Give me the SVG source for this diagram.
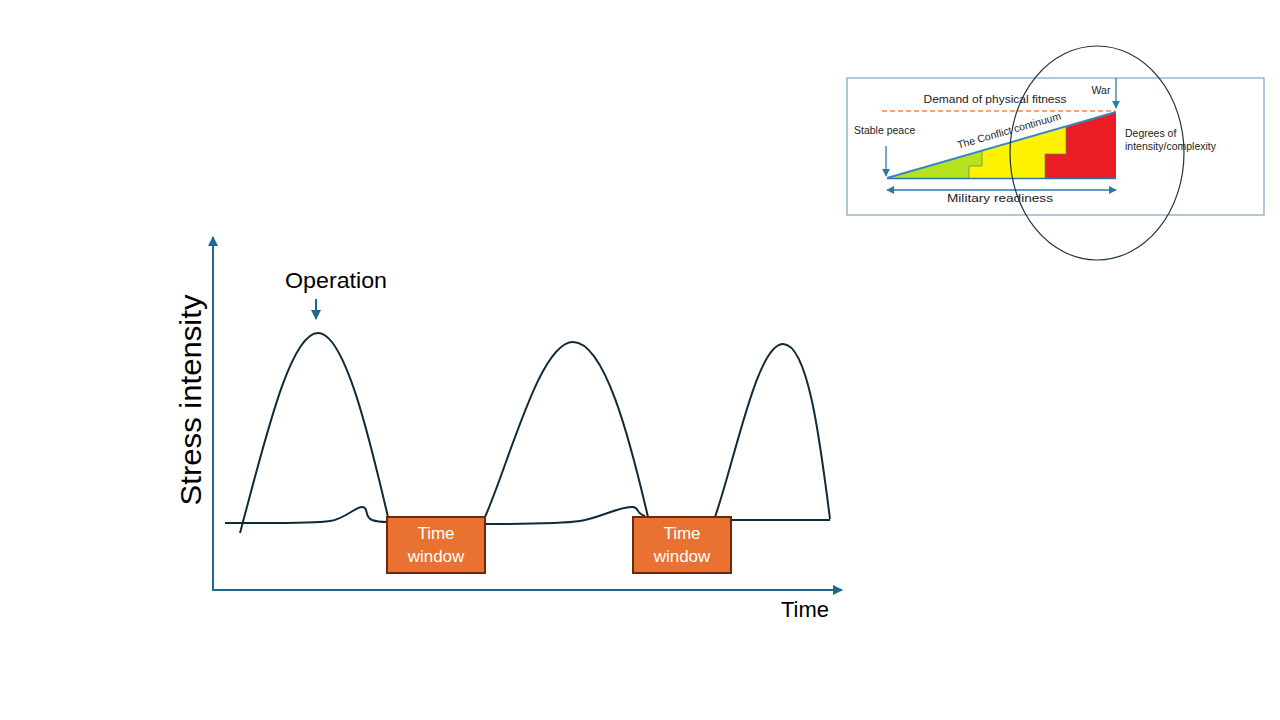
<svg xmlns="http://www.w3.org/2000/svg" width="1280" height="720" viewBox="0 0 1280 720">
<defs>
<style>
.axis{stroke:#1d6a8e;stroke-width:2;fill:none}
.curve{stroke:#0f2b3b;stroke-width:2;fill:none}
.box{fill:#e97132;stroke:#6b2a0c;stroke-width:2}
.boxt{font-family:"Liberation Sans",Arial,sans-serif;font-size:17px;fill:#ffffff;text-anchor:middle}
.lbl{font-family:"Liberation Sans",Arial,sans-serif;fill:#000}
.small{font-family:"Liberation Sans",Arial,sans-serif;font-size:10.5px;fill:#222}
.blue{stroke:#2a7aa6;stroke-width:1.3;fill:none}
</style>
<marker id="ah" viewBox="0 0 10 10" refX="9" refY="5" markerWidth="5" markerHeight="5" orient="auto-start-reverse">
<path d="M0,0 L10,5 L0,10 z" fill="#1d6a8e"/>
</marker>
<marker id="ahs" viewBox="0 0 10 10" refX="9" refY="5" markerWidth="6" markerHeight="6" orient="auto-start-reverse">
<path d="M0,0 L10,5 L0,10 z" fill="#2a7aa6"/>
</marker>
</defs>

<g id="connectors">
<line class="axis" x1="213" y1="591" x2="213" y2="237" marker-end="url(#ah)"/>
<line class="axis" x1="213" y1="590" x2="842" y2="590" marker-end="url(#ah)"/>
<line class="axis" x1="316" y1="299" x2="316" y2="319" marker-end="url(#ah)"/>
</g>

<g id="curves">
<path class="curve" d="M240,533 C265,440 290,333 318,333 C345,333 370,440 388,517"/>
<path class="curve" d="M485,517 C510,460 540,342 573,342 C605,342 630,440 648,517"/>
<path class="curve" d="M715,517 C735,460 757,344 783,344 C808,344 820,440 830,519"/>
<path class="curve" d="M225,523 C260,523 310,524 330,521 C345,519 355,507 362,507 C369,507 364,517 372,520 C378,522 383,522 387,522"/>
<path class="curve" d="M485,524 C520,524 560,524 580,521 C600,518 620,506 633,507 C640,508 635,513 645,516"/>
<path class="curve" d="M731,520 L830,520"/>
</g>

<g id="labels">
<text class="lbl" x="336" y="288" font-size="22" text-anchor="middle" textLength="102" lengthAdjust="spacingAndGlyphs">Operation</text>
<text class="lbl" x="805" y="617" font-size="22" text-anchor="middle" textLength="48" lengthAdjust="spacingAndGlyphs">Time</text>
<text class="lbl" font-size="29" text-anchor="middle" transform="translate(201,400) rotate(-90)" textLength="211" lengthAdjust="spacingAndGlyphs">Stress intensity</text>
</g>

<g id="tw1">
<rect class="box" x="387" y="517" width="98" height="56"/>
<text class="boxt" x="436" y="539">Time</text>
<text class="boxt" x="436" y="562">window</text>
</g>
<g id="tw2">
<rect class="box" x="633" y="517" width="98" height="56"/>
<text class="boxt" x="682" y="539">Time</text>
<text class="boxt" x="682" y="562">window</text>
</g>

<g id="inset">
<rect x="847" y="78" width="417" height="137" fill="#ffffff" stroke="#7aa6c2" stroke-width="1.2"/>
<line x1="882" y1="111" x2="1115" y2="111" stroke="#f08a4b" stroke-width="1.5" stroke-dasharray="5,3"/>
<text class="small" x="995" y="103" font-size="12" text-anchor="middle" textLength="143" lengthAdjust="spacingAndGlyphs">Demand of physical fitness</text>
<text class="small" x="1101" y="94" text-anchor="middle">War</text>
<line class="blue" x1="1116" y1="78" x2="1116" y2="108" marker-end="url(#ahs)"/>
<text class="small" x="854" y="134">Stable peace</text>
<line class="blue" x1="886" y1="146" x2="886" y2="176" marker-end="url(#ahs)"/>
<polygon points="887,178 982,150.6 982,166 969,166 969,178" fill="#b6e21e"/>
<polygon points="969,178 969,166 982,166 982,150.6 1066,126.4 1066,154 1045,154 1045,178" fill="#fff200"/>
<polygon points="1045,178 1045,154 1066,154 1066,126.4 1116,112 1116,178" fill="#ec1c24"/>
<path d="M969,178 V166 H982 V150.6 M1045,178 V154 H1066 V126.4" stroke="#6b8a7a" stroke-width="0.8" fill="none"/>
<line x1="887" y1="178.5" x2="1116" y2="178.5" stroke="#2a7aa6" stroke-width="1.5"/>
<line x1="887" y1="178" x2="1116" y2="112" stroke="#3a86c0" stroke-width="2"/>
<text class="small" x="1010" y="134" text-anchor="middle" transform="rotate(-16 1010 134)">The Conflict continuum</text>
<text class="small" x="1125" y="137">Degrees of</text>
<text class="small" x="1125" y="150">intensity/complexity</text>
<line class="blue" x1="887" y1="190" x2="1116" y2="190" marker-start="url(#ahs)" marker-end="url(#ahs)"/>
<text class="small" x="1000" y="202" font-size="14" text-anchor="middle" textLength="106" lengthAdjust="spacingAndGlyphs">Military readiness</text>
<ellipse cx="1097" cy="153" rx="87" ry="107" fill="none" stroke="#1e3445" stroke-width="1.2"/>
</g>
</svg>
